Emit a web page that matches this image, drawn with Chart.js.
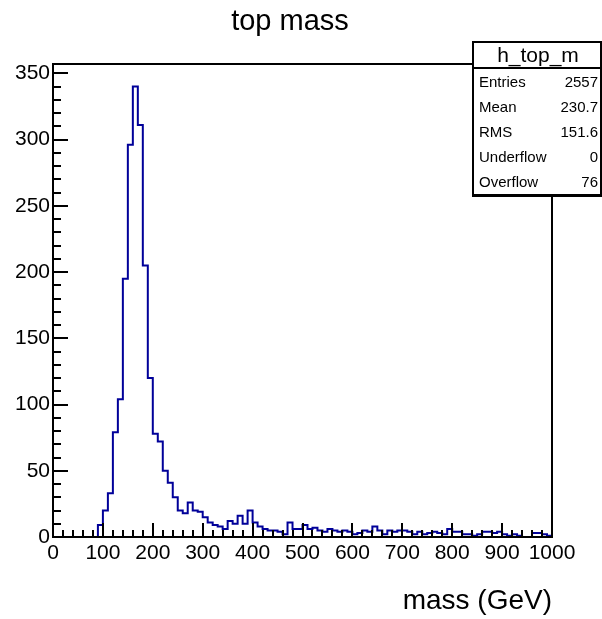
<!DOCTYPE html>
<html>
<head>
<meta charset="utf-8">
<script src="https://cdn.jsdelivr.net/npm/chart.js@4/dist/chart.umd.min.js"></script>
<style>
  html, body { margin: 0; padding: 0; background: #fff; }
  #c { display: block; }
</style>
</head>
<body>
<canvas id="c" width="602" height="619"></canvas>
<script>
// h_top_m : reconstructed top mass, 100 bins of 10 GeV
const binEdges = [
  0, 10, 20, 30, 40, 50, 60, 70, 80, 90,
  100, 110, 120, 130, 140, 150, 160, 170, 180, 190,
  200, 210, 220, 230, 240, 250, 260, 270, 280, 290,
  300, 310, 320, 330, 340, 350, 360, 370, 380, 390,
  400, 410, 420, 430, 440, 450, 460, 470, 480, 490,
  500, 510, 520, 530, 540, 550, 560, 570, 580, 590,
  600, 610, 620, 630, 640, 650, 660, 670, 680, 690,
  700, 710, 720, 730, 740, 750, 760, 770, 780, 790,
  800, 810, 820, 830, 840, 850, 860, 870, 880, 890,
  900, 910, 920, 930, 940, 950, 960, 970, 980, 990,
  1000
];
const binCounts = [
  0, 0, 0, 0, 0, 0, 0, 0, 0, 9,
  20, 33, 79, 104, 195, 296, 340, 311, 205, 120,
  78, 72, 50, 41, 30, 20, 18, 26, 20, 19,
  15, 11, 9, 8, 6, 12, 10, 16, 10, 20,
  11, 8, 6, 5, 5, 4, 2, 11, 6, 6,
  9, 6, 7, 5, 4, 6, 5, 4, 5, 4,
  2, 3, 5, 4, 8, 5, 2, 5, 4, 5,
  5, 4, 2, 4, 2, 3, 4, 3, 2, 6,
  4, 4, 2, 2, 1, 2, 4, 4, 3, 4,
  2, 1, 2, 1, 0, 0, 3, 3, 2, 1
];
const statLabels = ['Entries', 'Mean', 'RMS', 'Underflow', 'Overflow'];
const statValues = ['2557', '230.7', '151.6', '0', '76'];

const xMin = 0, xMax = 1000, xMajor = 100, xMinor = 20;
const yMin = 0, yMax = 357, yMajor = 50, yMinor = 10;
const FONT = "'Liberation Sans', Arial, Helvetica, sans-serif";

// step outline: one point per bin low edge, closed down to zero at the last edge
const points = binCounts.map((v, i) => ({ x: binEdges[i], y: v }));
points.push({ x: binEdges[binEdges.length - 1], y: 0 });

// ROOT style frame with ticks pointing into the pad
const frameTicks = {
  id: 'frameTicks',
  afterDatasetsDraw(chart) {
    const { ctx, chartArea: a, scales: { x, y } } = chart;
    ctx.save();
    ctx.strokeStyle = '#000';
    ctx.lineWidth = 2;
    ctx.beginPath();
    for (let v = yMin; v <= yMax; v += yMinor) {
      const py = Math.round(y.getPixelForValue(v));
      const len = v % yMajor === 0 ? 15 : 8;
      ctx.moveTo(a.left, py);
      ctx.lineTo(a.left + len, py);
    }
    for (let v = xMin; v <= xMax; v += xMinor) {
      const px = Math.round(x.getPixelForValue(v));
      const len = v % xMajor === 0 ? 14 : 7;
      ctx.moveTo(px, a.bottom);
      ctx.lineTo(px, a.bottom - len);
    }
    ctx.stroke();
    ctx.strokeRect(a.left, a.top, a.right - a.left, a.bottom - a.top);
    ctx.restore();
  },
  afterDraw(chart) {
    const { ctx, chartArea: a } = chart;
    ctx.save();
    ctx.fillStyle = '#000';

    // pad title
    ctx.font = '29px ' + FONT;
    ctx.textAlign = 'center';
    ctx.textBaseline = 'alphabetic';
    ctx.fillText('top mass', 290, 30);

    // x axis title, right aligned to the frame
    ctx.font = '28px ' + FONT;
    ctx.textAlign = 'right';
    ctx.fillText('mass (GeV)', a.right, 609);

    // statistics box
    const bx = 473, by = 42, bw = 128, bh = 153;
    ctx.fillStyle = '#fff';
    ctx.fillRect(bx, by, bw, bh);
    ctx.strokeStyle = '#000';
    ctx.lineWidth = 2;
    ctx.strokeRect(bx, by, bw, bh);
    ctx.fillStyle = '#000';
    ctx.fillRect(bx - 1, by + bh, bw + 2, 2);
    ctx.beginPath();
    ctx.moveTo(bx, 68);
    ctx.lineTo(bx + bw, 68);
    ctx.stroke();

    ctx.font = '21px ' + FONT;
    ctx.textAlign = 'center';
    ctx.fillText('h_top_m', bx + bw / 2 + 1, 62);

    ctx.font = '15px ' + FONT;
    statLabels.forEach((lab, i) => {
      const base = 87 + i * 25;
      ctx.textAlign = 'left';
      ctx.fillText(lab, bx + 6, base);
      ctx.textAlign = 'right';
      ctx.fillText(statValues[i], bx + bw - 3, base);
    });
    ctx.restore();
  }
};

new Chart(document.getElementById('c'), {
  type: 'line',
  data: {
    datasets: [{
      label: 'h_top_m',
      data: points,
      // horizontal across each bin, vertical at the next edge
      stepped: 'before',
      borderColor: '#000099',
      borderWidth: 2,
      pointRadius: 0,
      fill: false,
      tension: 0
    }]
  },
  options: {
    responsive: false,
    animation: false,
    devicePixelRatio: 1,
    layout: { padding: { left: 0, top: 64, right: 50, bottom: 42 } },
    plugins: {
      legend: { display: false },
      tooltip: { enabled: false },
      title: { display: false }
    },
    scales: {
      x: {
        type: 'linear',
        min: xMin,
        max: xMax,
        grid: { display: false, drawTicks: false },
        border: { display: false },
        ticks: {
          stepSize: xMajor,
          color: '#000',
          padding: 4,
          maxRotation: 0,
          autoSkip: false,
          font: { family: FONT, size: 21 },
          callback: v => String(v)
        },
        afterFit(s) { s.height = 40; }
      },
      y: {
        type: 'linear',
        min: yMin,
        max: yMax,
        grid: { display: false, drawTicks: false },
        border: { display: false },
        ticks: {
          stepSize: yMajor,
          includeBounds: false,
          color: '#000',
          padding: 3,
          font: { family: FONT, size: 21 },
          callback: v => String(v)
        },
        afterFit(s) { s.width = 53; }
      }
    }
  },
  plugins: [frameTicks]
});
</script>
</body>
</html>
